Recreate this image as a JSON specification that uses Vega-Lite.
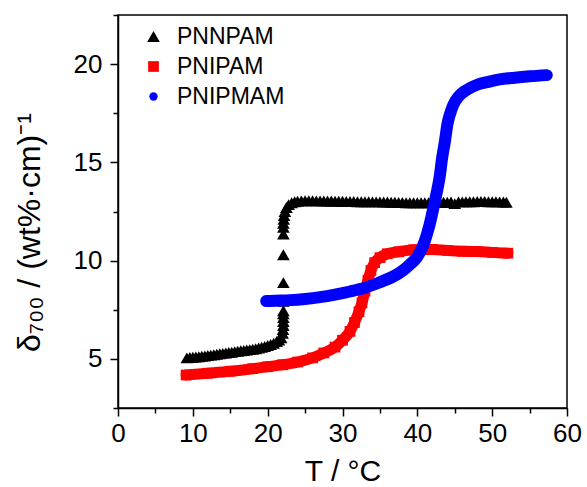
{
  "$schema": "https://vega.github.io/schema/vega-lite/v6.json",
  "width": 449,
  "height": 393,
  "autosize": {"type": "none"},
  "padding": {"left": 118, "top": 15, "right": 20, "bottom": 79},
  "background": "white",
  "config": {
    "font": "Liberation Sans",
    "view": {"stroke": "black", "strokeWidth": 1.5},
    "axis": {"domainColor": "black", "domainWidth": 1.5, "tickColor": "black", "tickWidth": 1.5, "grid": false, "labelColor": "black", "titleColor": "black", "labelFont": "Liberation Sans", "titleFont": "Liberation Sans", "titleFontWeight": "normal"}
  },
  "data": {"values": [
    {"s":"PNNPAM","T":9.2,"v":5.05},{"s":"PNNPAM","T":9.6,"v":5.07},{"s":"PNNPAM","T":10.0,"v":5.08},{"s":"PNNPAM","T":10.4,"v":5.1},{"s":"PNNPAM","T":10.8,"v":5.11},{"s":"PNNPAM","T":11.2,"v":5.13},{"s":"PNNPAM","T":11.6,"v":5.15},{"s":"PNNPAM","T":12.0,"v":5.17},{"s":"PNNPAM","T":12.4,"v":5.19},{"s":"PNNPAM","T":12.8,"v":5.21},{"s":"PNNPAM","T":13.2,"v":5.24},{"s":"PNNPAM","T":13.6,"v":5.26},{"s":"PNNPAM","T":14.0,"v":5.28},{"s":"PNNPAM","T":14.4,"v":5.3},{"s":"PNNPAM","T":14.8,"v":5.32},{"s":"PNNPAM","T":15.2,"v":5.34},{"s":"PNNPAM","T":15.6,"v":5.37},{"s":"PNNPAM","T":16.0,"v":5.39},{"s":"PNNPAM","T":16.4,"v":5.41},{"s":"PNNPAM","T":16.8,"v":5.43},{"s":"PNNPAM","T":17.2,"v":5.45},{"s":"PNNPAM","T":17.6,"v":5.47},{"s":"PNNPAM","T":18.0,"v":5.49},{"s":"PNNPAM","T":18.4,"v":5.52},{"s":"PNNPAM","T":18.8,"v":5.55},{"s":"PNNPAM","T":19.2,"v":5.59},{"s":"PNNPAM","T":19.6,"v":5.63},{"s":"PNNPAM","T":20.0,"v":5.68},{"s":"PNNPAM","T":20.4,"v":5.73},{"s":"PNNPAM","T":20.8,"v":5.8},{"s":"PNNPAM","T":21.2,"v":5.88},{"s":"PNNPAM","T":21.5,"v":5.96},{"s":"PNNPAM","T":21.8,"v":6.08},{"s":"PNNPAM","T":22.0,"v":6.3},{"s":"PNNPAM","T":22.05,"v":6.5},{"s":"PNNPAM","T":22.1,"v":6.7},{"s":"PNNPAM","T":22.1,"v":6.9},{"s":"PNNPAM","T":22.1,"v":7.1},{"s":"PNNPAM","T":22.1,"v":7.3},{"s":"PNNPAM","T":22.1,"v":7.45},{"s":"PNNPAM","T":22.1,"v":7.93},{"s":"PNNPAM","T":22.1,"v":8.88},{"s":"PNNPAM","T":22.1,"v":10.3},{"s":"PNNPAM","T":22.1,"v":11.35},{"s":"PNNPAM","T":22.1,"v":11.7},{"s":"PNNPAM","T":22.1,"v":11.9},{"s":"PNNPAM","T":22.15,"v":12.1},{"s":"PNNPAM","T":22.2,"v":12.3},{"s":"PNNPAM","T":22.3,"v":12.5},{"s":"PNNPAM","T":22.5,"v":12.7},{"s":"PNNPAM","T":22.8,"v":12.85},{"s":"PNNPAM","T":23.2,"v":12.95},{"s":"PNNPAM","T":23.6,"v":13.0},{"s":"PNNPAM","T":24.0,"v":13.02},{"s":"PNNPAM","T":24.5,"v":13.04},{"s":"PNNPAM","T":25.0,"v":13.05},{"s":"PNNPAM","T":25.5,"v":13.05},{"s":"PNNPAM","T":26.0,"v":13.05},{"s":"PNNPAM","T":26.5,"v":13.04},{"s":"PNNPAM","T":27.0,"v":13.04},{"s":"PNNPAM","T":27.5,"v":13.03},{"s":"PNNPAM","T":28.0,"v":13.03},{"s":"PNNPAM","T":28.5,"v":13.03},{"s":"PNNPAM","T":29.0,"v":13.02},{"s":"PNNPAM","T":29.5,"v":13.02},{"s":"PNNPAM","T":30.0,"v":13.02},{"s":"PNNPAM","T":30.5,"v":13.01},{"s":"PNNPAM","T":31.0,"v":13.01},{"s":"PNNPAM","T":31.5,"v":13.01},{"s":"PNNPAM","T":32.0,"v":13.0},{"s":"PNNPAM","T":32.5,"v":13.0},{"s":"PNNPAM","T":33.0,"v":13.0},{"s":"PNNPAM","T":33.5,"v":13.0},{"s":"PNNPAM","T":34.0,"v":12.99},{"s":"PNNPAM","T":34.5,"v":12.99},{"s":"PNNPAM","T":35.0,"v":12.99},{"s":"PNNPAM","T":35.5,"v":12.98},{"s":"PNNPAM","T":36.0,"v":12.98},{"s":"PNNPAM","T":36.5,"v":12.97},{"s":"PNNPAM","T":37.0,"v":12.97},{"s":"PNNPAM","T":37.5,"v":12.96},{"s":"PNNPAM","T":38.0,"v":12.96},{"s":"PNNPAM","T":38.5,"v":12.95},{"s":"PNNPAM","T":39.0,"v":12.95},{"s":"PNNPAM","T":39.5,"v":12.95},{"s":"PNNPAM","T":40.0,"v":12.95},{"s":"PNNPAM","T":40.5,"v":12.95},{"s":"PNNPAM","T":41.0,"v":12.95},{"s":"PNNPAM","T":41.5,"v":12.95},{"s":"PNNPAM","T":42.0,"v":12.96},{"s":"PNNPAM","T":42.5,"v":12.96},{"s":"PNNPAM","T":43.0,"v":12.96},{"s":"PNNPAM","T":43.5,"v":12.97},{"s":"PNNPAM","T":44.0,"v":12.97},{"s":"PNNPAM","T":44.5,"v":12.98},{"s":"PNNPAM","T":45.0,"v":12.9},{"s":"PNNPAM","T":45.5,"v":12.99},{"s":"PNNPAM","T":46.0,"v":12.99},{"s":"PNNPAM","T":46.5,"v":13.0},{"s":"PNNPAM","T":47.0,"v":13.0},{"s":"PNNPAM","T":47.5,"v":13.0},{"s":"PNNPAM","T":48.0,"v":13.01},{"s":"PNNPAM","T":48.5,"v":13.01},{"s":"PNNPAM","T":49.0,"v":13.01},{"s":"PNNPAM","T":49.5,"v":13.0},{"s":"PNNPAM","T":50.0,"v":13.0},{"s":"PNNPAM","T":50.5,"v":13.0},{"s":"PNNPAM","T":51.0,"v":12.99},{"s":"PNNPAM","T":51.5,"v":12.98},{"s":"PNNPAM","T":51.9,"v":12.97},
    {"s":"PNIPAM","T":9.1,"v":4.18},{"s":"PNIPAM","T":12,"v":4.27},{"s":"PNIPAM","T":15,"v":4.37},{"s":"PNIPAM","T":18,"v":4.5},{"s":"PNIPAM","T":20,"v":4.6},{"s":"PNIPAM","T":22,"v":4.7},{"s":"PNIPAM","T":24,"v":4.84},{"s":"PNIPAM","T":26,"v":5.05},{"s":"PNIPAM","T":27.5,"v":5.3},{"s":"PNIPAM","T":29,"v":5.6},{"s":"PNIPAM","T":30,"v":5.95},{"s":"PNIPAM","T":31,"v":6.4},{"s":"PNIPAM","T":31.6,"v":6.85},{"s":"PNIPAM","T":32.2,"v":7.4},{"s":"PNIPAM","T":32.6,"v":7.85},{"s":"PNIPAM","T":33.0,"v":8.45},{"s":"PNIPAM","T":33.4,"v":9.0},{"s":"PNIPAM","T":33.8,"v":9.5},{"s":"PNIPAM","T":34.3,"v":9.9},{"s":"PNIPAM","T":35,"v":10.15},{"s":"PNIPAM","T":36,"v":10.35},{"s":"PNIPAM","T":37.5,"v":10.45},{"s":"PNIPAM","T":39.5,"v":10.55},{"s":"PNIPAM","T":42,"v":10.57},{"s":"PNIPAM","T":44,"v":10.52},{"s":"PNIPAM","T":46,"v":10.48},{"s":"PNIPAM","T":48,"v":10.46},{"s":"PNIPAM","T":50,"v":10.42},{"s":"PNIPAM","T":52.1,"v":10.38},
    {"s":"PNIPMAM","T":19.8,"v":7.94},{"s":"PNIPMAM","T":21,"v":7.96},{"s":"PNIPMAM","T":23,"v":7.99},{"s":"PNIPMAM","T":25,"v":8.05},{"s":"PNIPMAM","T":27,"v":8.14},{"s":"PNIPMAM","T":29,"v":8.27},{"s":"PNIPMAM","T":31,"v":8.43},{"s":"PNIPMAM","T":33,"v":8.62},{"s":"PNIPMAM","T":35,"v":8.9},{"s":"PNIPMAM","T":36.8,"v":9.2},{"s":"PNIPMAM","T":37.7,"v":9.4},{"s":"PNIPMAM","T":39,"v":9.8},{"s":"PNIPMAM","T":40,"v":10.2},{"s":"PNIPMAM","T":41,"v":11.0},{"s":"PNIPMAM","T":41.6,"v":11.77},{"s":"PNIPMAM","T":42.1,"v":12.6},{"s":"PNIPMAM","T":42.6,"v":13.48},{"s":"PNIPMAM","T":43.0,"v":14.3},{"s":"PNIPMAM","T":43.3,"v":15.19},{"s":"PNIPMAM","T":43.7,"v":16.1},{"s":"PNIPMAM","T":44.0,"v":16.9},{"s":"PNIPMAM","T":44.4,"v":17.5},{"s":"PNIPMAM","T":44.8,"v":17.92},{"s":"PNIPMAM","T":45.5,"v":18.35},{"s":"PNIPMAM","T":46.6,"v":18.69},{"s":"PNIPMAM","T":48,"v":18.95},{"s":"PNIPMAM","T":49.5,"v":19.1},{"s":"PNIPMAM","T":51,"v":19.22},{"s":"PNIPMAM","T":53,"v":19.31},{"s":"PNIPMAM","T":55,"v":19.38},{"s":"PNIPMAM","T":57.3,"v":19.44}
  ]},
  "encoding": {
    "x": {"field": "T", "type": "quantitative",
      "scale": {"domain": [0, 60], "nice": false, "zero": false},
      "axis": {"values": [0,5,10,15,20,25,30,35,40,45,50,55,60],
        "labelExpr": "datum.value % 10 === 0 ? datum.label : ''",
        "tickSize": {"condition": {"test": "datum.value % 10 === 0", "value": 8}, "value": 5},
        "labelFontSize": 26, "labelPadding": 4, "labelFlush": false,
        "title": "T / °C", "titleFontSize": 30, "titlePadding": 10}},
    "y": {"field": "v", "type": "quantitative",
      "scale": {"domain": [2.5, 22.5], "nice": false, "zero": false},
      "axis": {"values": [2.5,5,7.5,10,12.5,15,17.5,20,22.5],
        "labelExpr": "datum.value % 5 === 0 ? datum.label : ''",
        "tickSize": {"condition": {"test": "datum.value % 5 === 0", "value": 8}, "value": 5},
        "labelFontSize": 26, "labelPadding": 8, "labelFlush": false,
        "title": "δ₇₀₀ / (wt%·cm)⁻¹", "titleFontSize": 32, "titleX": -72, "titleY": 217, "titleBaseline": "bottom"}}
  },
  "layer": [
    {
      "mark": {"type": "point", "filled": true, "opacity": 1},
      "encoding": {
        "color": {"field": "s", "type": "nominal",
          "scale": {"domain": ["PNNPAM", "PNIPAM", "PNIPMAM"], "range": ["#000000", "#ff0000", "#0000ff"]},
          "legend": {"title": null, "orient": "none", "legendX": 24, "legendY": 10, "labelFontSize": 23, "symbolSize": 110, "rowPadding": 6, "labelOffset": 12, "padding": 0, "symbolStrokeWidth": 0}},
        "shape": {"field": "s", "type": "nominal",
          "scale": {"domain": ["PNNPAM", "PNIPAM", "PNIPMAM"], "range": ["triangle-up", "square", "circle"]},
          "legend": {"title": null, "orient": "none", "legendX": 24, "legendY": 10, "labelFontSize": 23, "symbolSize": 110, "rowPadding": 6, "labelOffset": 12, "padding": 0, "symbolStrokeWidth": 0}},
        "size": {"field": "s", "type": "nominal",
          "scale": {"domain": ["PNNPAM", "PNIPAM", "PNIPMAM"], "range": [160, 70, 110]}, "legend": null}
      }
    },
    {
      "transform": [{"filter": "datum.s === 'PNIPAM'"}],
      "mark": {"type": "line", "strokeWidth": 11, "strokeCap": "round", "strokeJoin": "round", "interpolate": "monotone", "color": "#ff0000"},
      "encoding": {}
    },
    {
      "transform": [{"filter": "datum.s === 'PNIPMAM'"}],
      "mark": {"type": "line", "strokeWidth": 12, "strokeCap": "round", "strokeJoin": "round", "interpolate": "monotone", "color": "#0000ff"},
      "encoding": {}
    }
  ]
}
